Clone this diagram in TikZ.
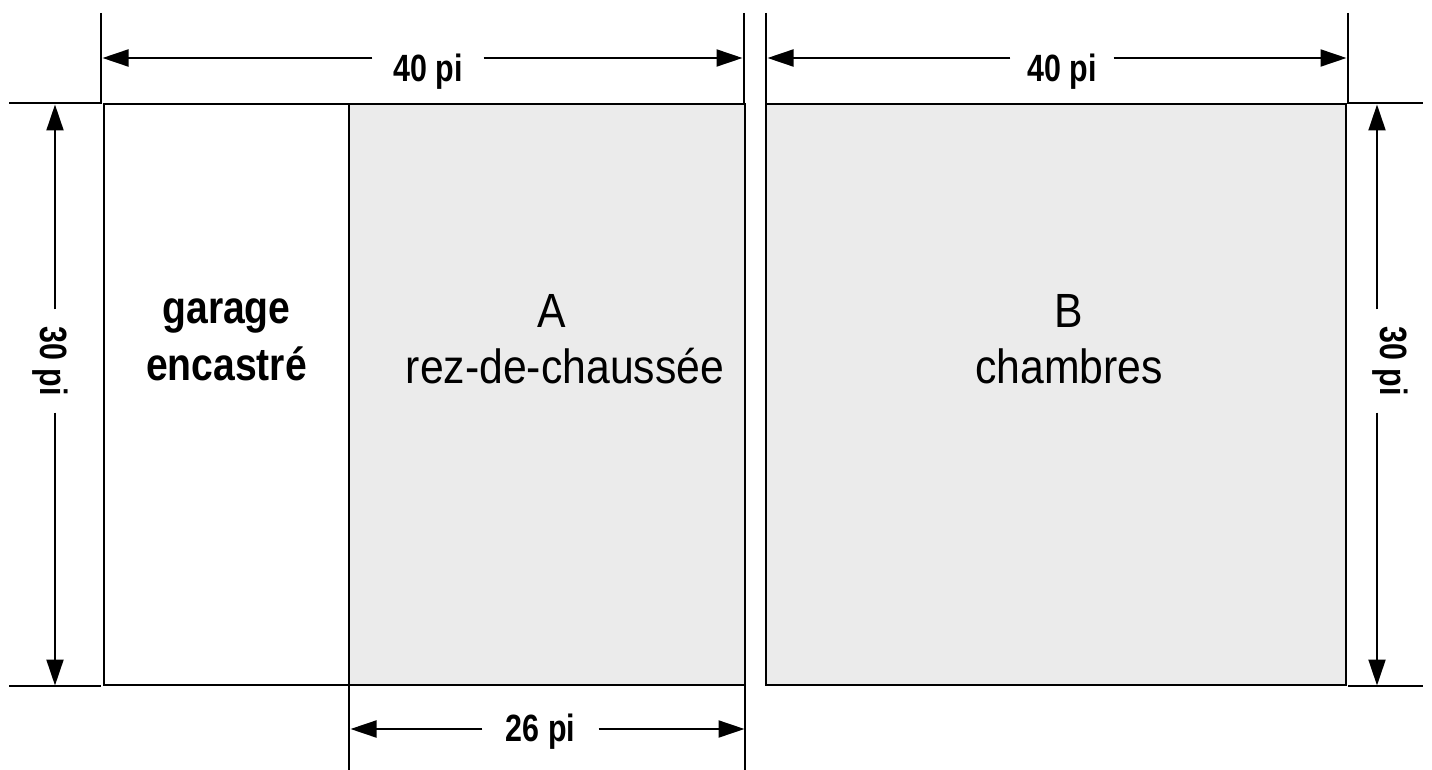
\documentclass[tikz,border=0pt]{standalone}
\usepackage{fontspec}
\setmainfont{Liberation Sans}
\newfontfamily\dimfont[FakeStretch=0.80]{Liberation Sans Bold}
\newfontfamily\garagefont[FakeStretch=0.85]{Liberation Sans Bold}
\newfontfamily\roomfont[FakeStretch=0.89]{Liberation Sans}
\usetikzlibrary{arrows.meta}
\definecolor{roomgrey}{HTML}{EBEBEB}
\tikzset{
  room/.style={draw,line width=2pt,inner sep=0pt,outer sep=0pt,minimum height=581pt},
  extline/.style={line width=2pt},
  dimline/.style={line width=2pt,-{Triangle[length=26pt,width=17pt]},shorten >=0.5pt},
  dimlabel/.style={inner sep=0pt,inner xsep=17pt,outer sep=0pt,font=\dimfont\fontsize{38}{38}\selectfont},
  vdimlabel/.style={dimlabel,rotate=-90},
  roomtext/.style={anchor=base,inner sep=0pt,font=\roomfont\fontsize{48}{48}\selectfont},
  garagetext/.style={anchor=base,inner sep=0pt,font=\garagefont\fontsize{46}{46}\selectfont}
}
\begin{document}
\begin{tikzpicture}[x=1pt,y=-1pt]
\useasboundingbox (0,0) rectangle (1432,770);
% rooms
\node[room,minimum width=245pt] (garage) at (226.5,394.5) {};
\node[room,minimum width=396pt,fill=roomgrey] (roomA) at (547,394.5) {};
\node[room,minimum width=580pt,fill=roomgrey] (roomB) at (1056,394.5) {};
\node[garagetext] (garagename) at (226.5,323) {garage};
\node[garagetext] (garagenamebis) at (226.5,380) {encastré};
\node[roomtext] (roomAletter) at (551.5,327) {A};
\node[roomtext] (roomAname) at (565,383) {rez-de-chaussée};
\node[roomtext] (roomBletter) at (1069,327) {B};
\node[roomtext] (roomBname) at (1069,383) {chambres};
% extension lines
\draw[extline] (101,13) -- (101,103) -- (9,103);
\draw[extline] (744,13) -- (744,104);
\draw[extline] (766,13) -- (766,104);
\draw[extline] (1348,13) -- (1348,103) -- (1423,103);
\draw[extline] (9,686) -- (101,686);
\draw[extline] (1348,686) -- (1423,686);
\draw[extline] (349,686) -- (349,770);
\draw[extline] (745,686) -- (745,770);
% dimensions
\coordinate (topAleft) at (102,58);
\coordinate (topAright) at (743,58);
\coordinate (topBleft) at (767,58);
\coordinate (topBright) at (1347,58);
\coordinate (leftup) at (55,104);
\coordinate (leftdown) at (55,686);
\coordinate (rightup) at (1377,104);
\coordinate (rightdown) at (1377,686);
\coordinate (botleft) at (350,729);
\coordinate (botright) at (745,729);
\node[dimlabel,inner xsep=21pt] (topAdim) at (428,71.5) {40 pi};
\node[dimlabel] (topBdim) at (1062,71.5) {40 pi};
\node[dimlabel,inner xsep=23.5pt] (botdim) at (540.5,731.5) {26 pi};
\node[vdimlabel] (leftdim) at (50.5,361) {30 pi};
\node[vdimlabel] (rightdim) at (1390,361) {30 pi};
\draw[dimline] (topAdim.west |- topAleft) -- (topAleft);
\draw[dimline] (topAdim.east |- topAright) -- (topAright);
\draw[dimline] (topBdim.west |- topBleft) -- (topBleft);
\draw[dimline] (topBdim.east |- topBright) -- (topBright);
\draw[dimline] (botdim.west |- botleft) -- (botleft);
\draw[dimline] (botdim.east |- botright) -- (botright);
\draw[dimline] (leftdim.west -| leftup) -- (leftup);
\draw[dimline] (leftdim.east -| leftdown) -- (leftdown);
\draw[dimline] (rightdim.west -| rightup) -- (rightup);
\draw[dimline] (rightdim.east -| rightdown) -- (rightdown);
\end{tikzpicture}
\end{document}
